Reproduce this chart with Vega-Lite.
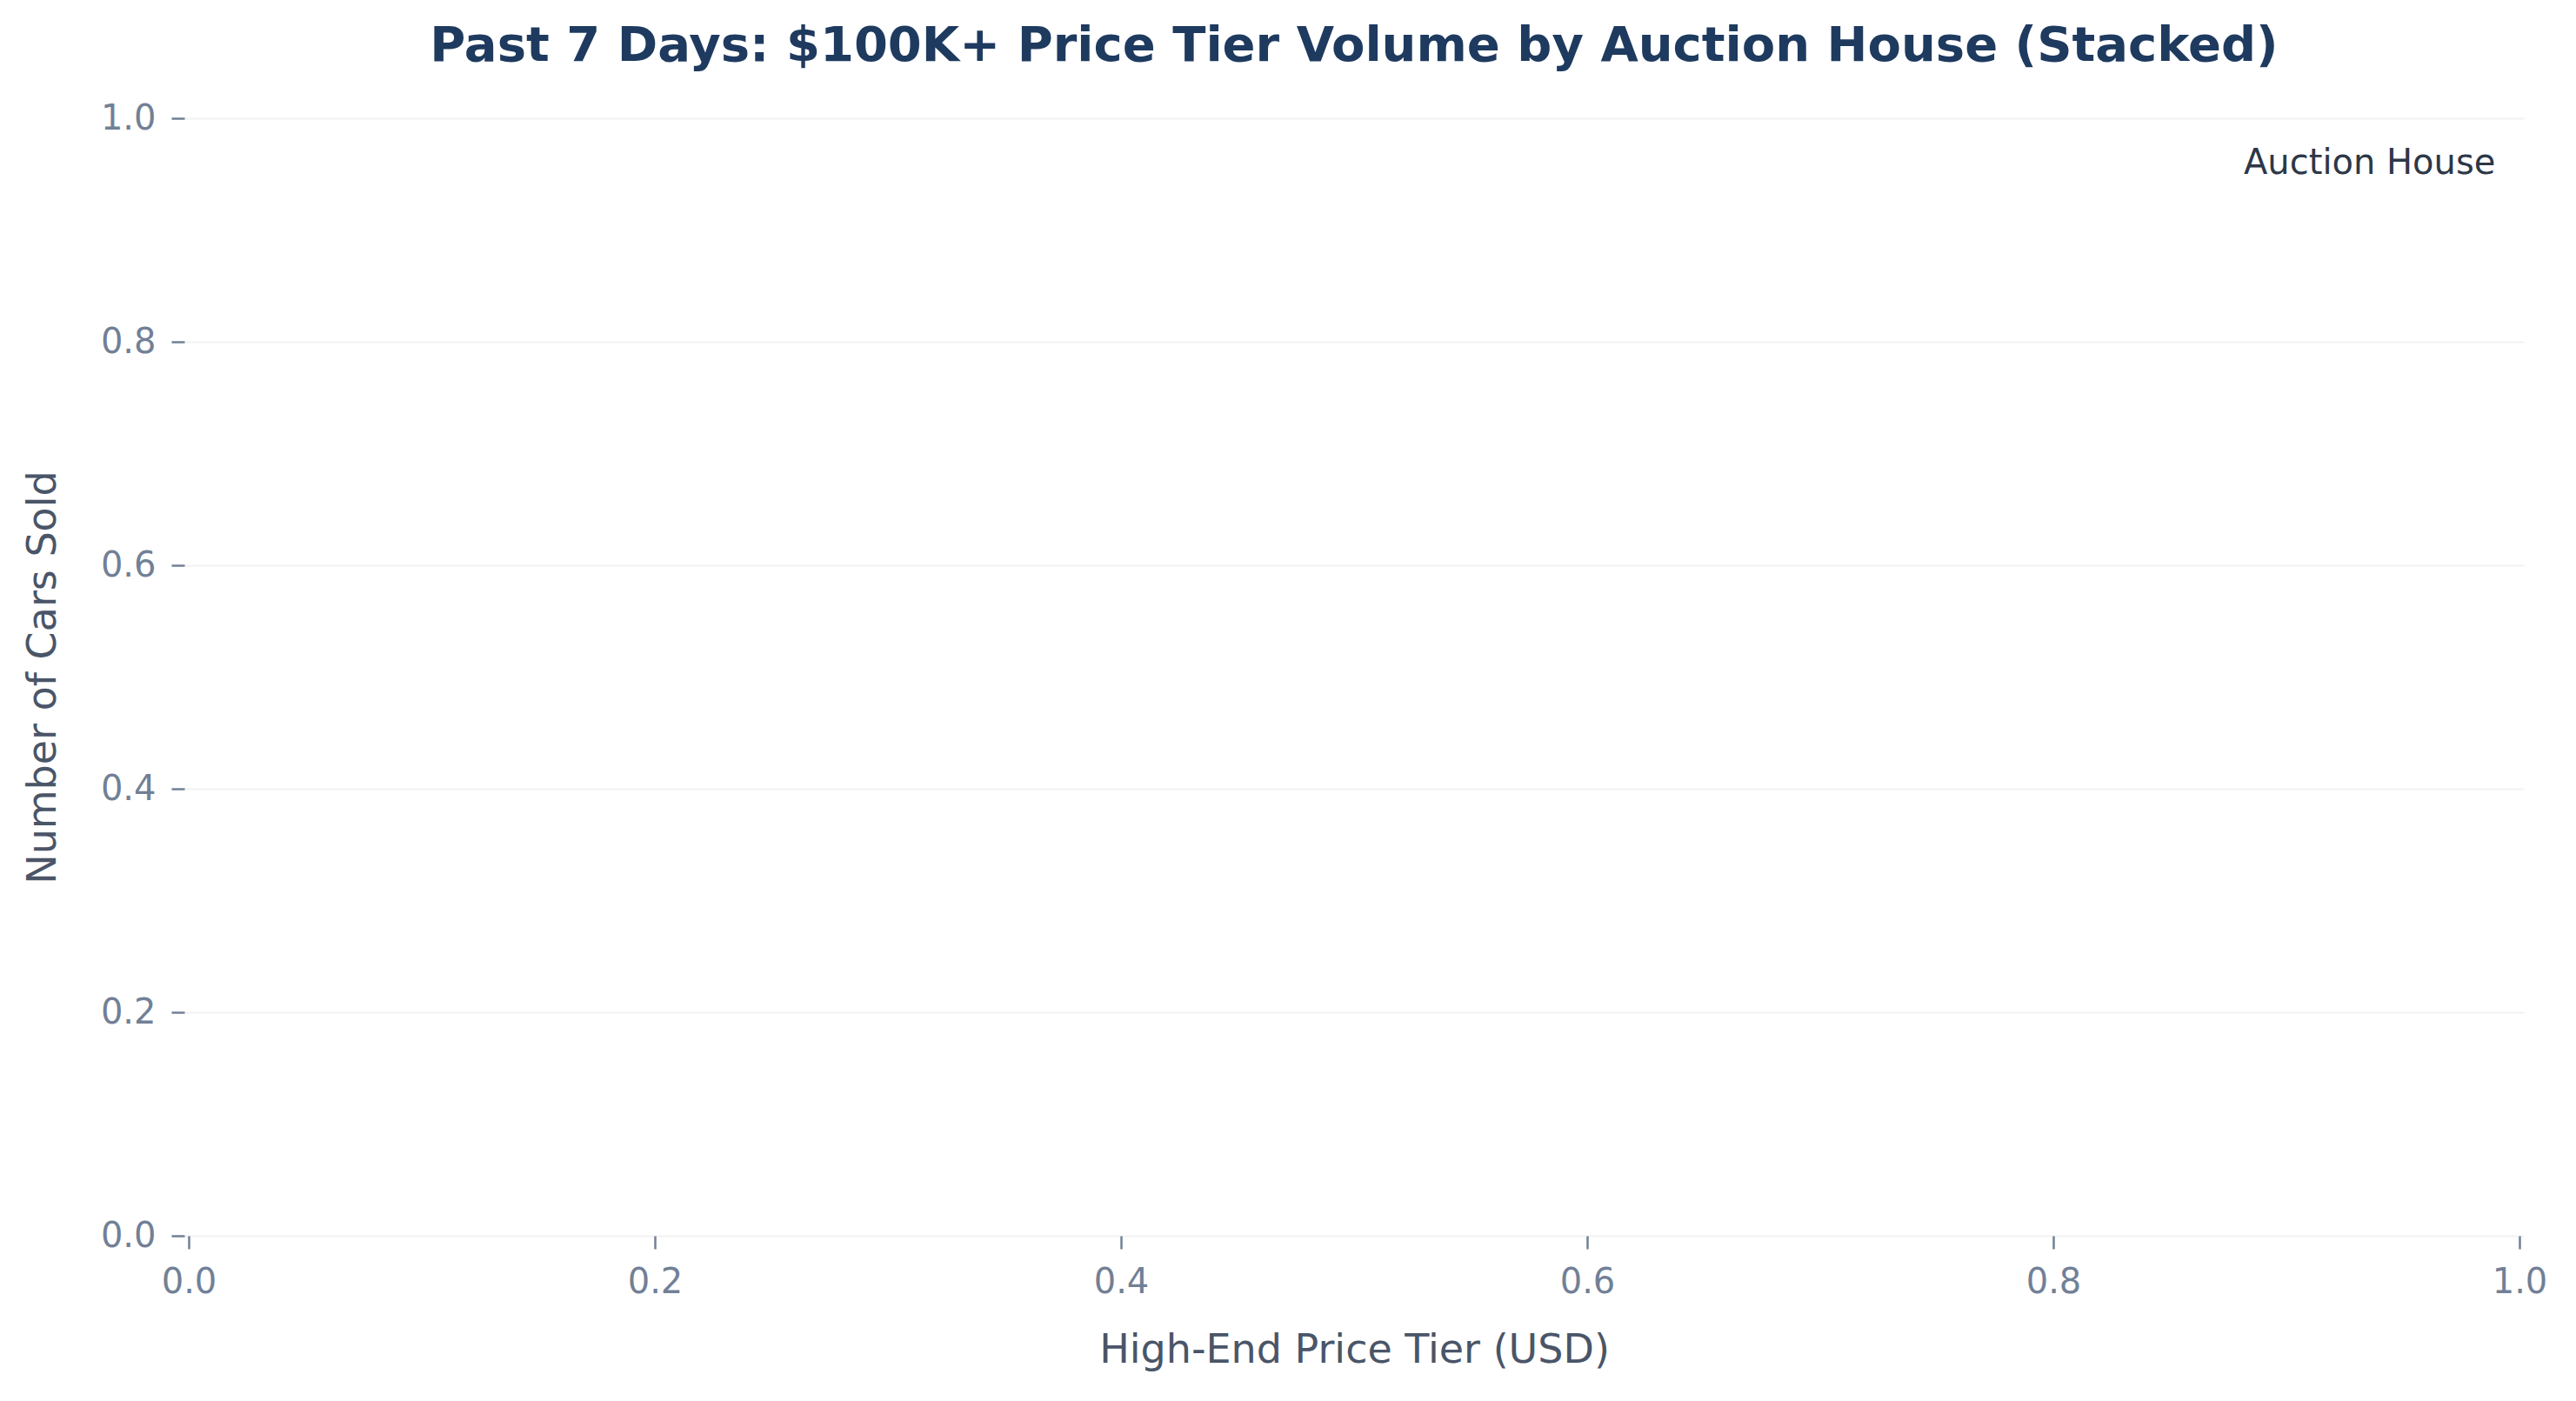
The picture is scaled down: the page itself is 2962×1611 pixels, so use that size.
{
  "$schema": "https://vega.github.io/schema/vega-lite/v6.json",
  "width": 2690,
  "height": 1285,
  "autosize": {"type": "none"},
  "padding": {"left": 212, "top": 136, "right": 60, "bottom": 190},
  "background": "white",
  "title": {
    "text": "Past 7 Days: $100K+ Price Tier Volume by Auction House (Stacked)",
    "font": "DejaVu Sans",
    "fontSize": 56,
    "fontWeight": "bold",
    "color": "#1e3a5f",
    "anchor": "middle",
    "offset": 34
  },
  "data": {"values": []},
  "mark": "bar",
  "encoding": {
    "x": {
      "field": "price_tier",
      "type": "quantitative",
      "title": "High-End Price Tier (USD)",
      "scale": {"domain": [0, 1], "nice": false, "zero": false},
      "axis": {"values": [0, 0.2, 0.4, 0.6, 0.8, 1.0], "format": ".1f", "grid": false, "titlePadding": 36}
    },
    "y": {
      "field": "cars_sold",
      "type": "quantitative",
      "stack": "zero",
      "title": "Number of Cars Sold",
      "scale": {"domain": [0, 1], "nice": false},
      "axis": {"values": [0, 0.2, 0.4, 0.6, 0.8, 1.0], "format": ".1f", "grid": true, "titlePadding": 42}
    },
    "color": {
      "field": "auction_house",
      "type": "nominal",
      "legend": {
        "title": "Auction House",
        "orient": "top-right",
        "offset": 32,
        "titleLimit": 2000,
        "titleFont": "DejaVu Sans",
        "titleFontSize": 40,
        "titleFontWeight": "normal",
        "titleColor": "#2d3748"
      }
    }
  },
  "config": {
    "view": {"stroke": null},
    "axis": {
      "domain": false,
      "labelFont": "DejaVu Sans",
      "labelFontSize": 40,
      "labelColor": "#718096",
      "labelPadding": 18,
      "labelFlush": false,
      "labelOverlap": false,
      "tickColor": "#718096",
      "tickWidth": 2.5,
      "tickSize": 15,
      "gridColor": "#f2f2f2",
      "gridWidth": 2,
      "titleFont": "DejaVu Sans",
      "titleFontSize": 46,
      "titleFontWeight": "normal",
      "titleColor": "#4a5568"
    }
  }
}
